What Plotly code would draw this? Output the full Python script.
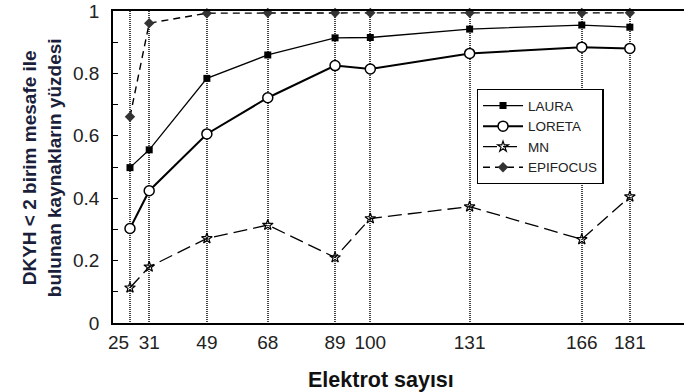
import plotly.graph_objects as go

# Electrode counts on the x axis
electrodes = [25, 31, 49, 68, 89, 100, 131, 166, 181]
electrode_labels = ["", "31", "49", "68", "89", "100", "131", "166", "181"]
first_label = "25"  # drawn nudged left so it clears the neighbouring "31"

# Fraction of sources localized with error < 2 units
laura = [0.498, 0.555, 0.784, 0.859, 0.914, 0.915, 0.942, 0.955, 0.948]
loreta = [0.303, 0.424, 0.606, 0.722, 0.825, 0.814, 0.864, 0.884, 0.880]
mn = [0.113, 0.180, 0.271, 0.314, 0.210, 0.335, 0.373, 0.268, 0.405]
epifocus = [0.661, 0.961, 0.993, 0.994, 0.994, 0.994, 0.994, 0.994, 0.994]

y_ticks = [0, 0.2, 0.4, 0.6, 0.8, 1.0]
y_tick_labels = ["0", "0.2", "0.4", "0.6", "0.8", "1"]

FONT = "Liberation Sans, Arial, sans-serif"

fig = go.Figure()

fig.add_trace(go.Scatter(
    x=electrodes, y=laura, name="LAURA", mode="lines+markers",
    line=dict(color="black", width=1.3),
    marker=dict(symbol="square", size=7, color="black"),
    cliponaxis=False,
))
fig.add_trace(go.Scatter(
    x=electrodes, y=loreta, name="LORETA", mode="lines+markers",
    line=dict(color="black", width=2),
    marker=dict(symbol="circle", size=10, color="white",
                line=dict(color="black", width=1.5)),
    cliponaxis=False,
))
fig.add_trace(go.Scatter(
    x=electrodes, y=mn, name="MN", mode="lines+markers",
    line=dict(color="black", width=1.3, dash="14px,6px"),
    marker=dict(symbol="star-open", size=8, color="black",
                line=dict(color="black", width=1.2)),
    cliponaxis=False,
))
fig.add_trace(go.Scatter(
    x=electrodes, y=epifocus, name="EPIFOCUS", mode="lines+markers",
    line=dict(color="black", width=1.4, dash="7px,5px"),
    marker=dict(symbol="diamond", size=8, color="#333333"),
    cliponaxis=False,
))

fig.update_layout(
    width=684, height=392,
    margin=dict(l=113, r=0, t=11, b=69),
    paper_bgcolor="white", plot_bgcolor="white",
    font=dict(family=FONT, color="#222222"),
    showlegend=True,
    legend=dict(
        x=0.637, y=0.75, xanchor="left", yanchor="top",
        bgcolor="white", bordercolor="black", borderwidth=1.3,
        font=dict(family=FONT, size=13.5, color="#222222"),
        tracegroupgap=0, itemwidth=40,
    ),
    xaxis=dict(
        range=[19.7, 197.9],
        tickmode="array", tickvals=electrodes, ticktext=electrode_labels,
        tickfont=dict(family=FONT, size=19, color="#222222"),
        tickangle=0,
        ticks="", ticklabelstandoff=1,
        showline=True, linecolor="black", linewidth=1.5, mirror=True,
        showgrid=True, gridcolor="#444444", gridwidth=1.6, griddash="1px,1px",
        zeroline=False,
    ),
    yaxis=dict(
        range=[0, 1],
        tickmode="array", tickvals=y_ticks, ticktext=y_tick_labels,
        tickfont=dict(family=FONT, size=19, color="#222222"),
        ticks="inside", ticklen=5, tickcolor="black", ticklabelstandoff=8,
        minor=dict(ticks="inside", ticklen=5, tickcolor="black",
                   tickvals=[0.1, 0.3, 0.5, 0.7, 0.9], showgrid=False),
        showline=True, linecolor="black", linewidth=1.5, mirror=False,
        showgrid=False, zeroline=False,
    ),
    annotations=[
        dict(
            text=first_label,
            xref="x", yref="paper", x=electrodes[0], y=0,
            xanchor="center", yanchor="top", xshift=-11, yshift=-7,
            showarrow=False,
            font=dict(family=FONT, size=19, color="#222222"),
        ),
        dict(
            text="<b>DKYH &lt; 2 birim mesafe ile<br>bulunan kaynakların yüzdesi</b>",
            xref="paper", yref="paper", x=-0.124, y=0.497,
            xanchor="center", yanchor="middle", textangle=-90, showarrow=False,
            font=dict(family=FONT, size=19, color="#1b1f3b"),
        ),
        dict(
            text="<b>Elektrot sayısı</b>",
            xref="paper", yref="paper", x=0.470, y=-0.183,
            xanchor="center", yanchor="middle", showarrow=False,
            font=dict(family=FONT, size=21.5, color="#111111"),
        ),
    ],
)

fig.write_html("out.html")
